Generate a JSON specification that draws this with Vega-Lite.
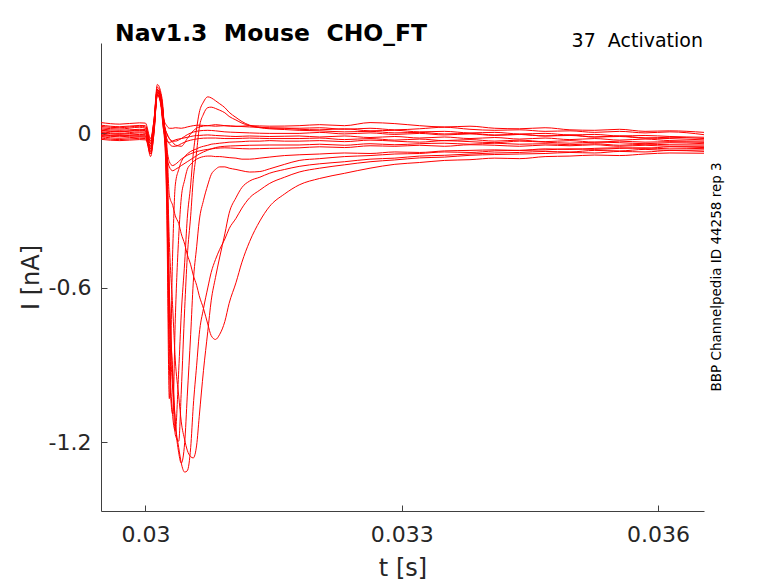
{
  "$schema": "https://vega.github.io/schema/vega-lite/v6.json",
  "autosize": {"type": "none"},
  "width": 603,
  "height": 468,
  "padding": {"left": 101, "top": 43, "right": 74, "bottom": 72},
  "background": "white",
  "title": {
    "text": "Nav1.3 \u00a0Mouse \u00a0CHO_FT",
    "anchor": "start",
    "frame": "group",
    "dx": 14,
    "offset": -32,
    "baseline": "alphabetic",
    "font": "DejaVu Sans",
    "fontSize": 23.5,
    "fontWeight": "bold",
    "color": "#000000"
  },
  "config": {
    "view": {"stroke": null},
    "axis": {
      "grid": false,
      "domainColor": "#404040",
      "tickColor": "#404040",
      "tickSize": -6,
      "labelFont": "DejaVu Sans",
      "labelFontSize": 22,
      "labelColor": "#262626",
      "labelFlush": false,
      "labelOverlap": false,
      "labelExpr": "toString(datum.value)",
      "titleFont": "DejaVu Sans",
      "titleFontSize": 24,
      "titleFontWeight": "normal",
      "titleColor": "#262626"
    }
  },
  "layer": [
    {
      "data": {
        "values": [
          {"s":"A","t":0.02948,"i":0.004},{"s":"A","t":0.0297,"i":-0.003},{"s":"A","t":0.02993,"i":0.002},{"s":"A","t":0.03,"i":0.0},{"s":"A","t":0.03006,"i":-0.06},{"s":"A","t":0.0301,"i":0.03},{"s":"A","t":0.03014,"i":0.17},{"s":"A","t":0.03018,"i":0.14},{"s":"A","t":0.03021,"i":0.06},{"s":"A","t":0.03025,"i":-0.1},{"s":"A","t":0.03028,"i":-0.6},{"s":"A","t":0.03032,"i":-0.95},{"s":"A","t":0.03035,"i":-1.12},{"s":"A","t":0.03039,"i":-1.22},{"s":"A","t":0.03042,"i":-1.28},{"s":"A","t":0.03046,"i":-1.315},{"s":"A","t":0.03049,"i":-1.31},{"s":"A","t":0.03053,"i":-1.22},{"s":"A","t":0.03056,"i":-1.06},{"s":"A","t":0.0306,"i":-0.9},{"s":"A","t":0.03063,"i":-0.78},{"s":"A","t":0.03068,"i":-0.68},{"s":"A","t":0.03073,"i":-0.6},{"s":"A","t":0.03077,"i":-0.54},{"s":"A","t":0.03082,"i":-0.49},{"s":"A","t":0.03087,"i":-0.45},{"s":"A","t":0.03093,"i":-0.41},{"s":"A","t":0.03098,"i":-0.37},{"s":"A","t":0.03106,"i":-0.33},{"s":"A","t":0.03113,"i":-0.29},{"s":"A","t":0.03122,"i":-0.25},{"s":"A","t":0.03134,"i":-0.22},{"s":"A","t":0.03145,"i":-0.195},{"s":"A","t":0.03163,"i":-0.17},{"s":"A","t":0.0318,"i":-0.15},{"s":"A","t":0.03204,"i":-0.135},{"s":"A","t":0.03233,"i":-0.122},{"s":"A","t":0.03263,"i":-0.11},{"s":"A","t":0.03292,"i":-0.103},{"s":"A","t":0.03321,"i":-0.095},{"s":"A","t":0.0335,"i":-0.092},{"s":"A","t":0.0338,"i":-0.085},{"s":"A","t":0.03409,"i":-0.082},{"s":"A","t":0.03438,"i":-0.08},{"s":"A","t":0.03468,"i":-0.078},{"s":"A","t":0.03497,"i":-0.074},{"s":"A","t":0.03526,"i":-0.076},{"s":"A","t":0.03555,"i":-0.07},{"s":"A","t":0.03585,"i":-0.072},{"s":"A","t":0.03614,"i":-0.066},{"s":"A","t":0.03654,"i":-0.07},
          {"s":"B","t":0.02948,"i":-0.012},{"s":"B","t":0.0297,"i":-0.006},{"s":"B","t":0.02993,"i":-0.011},{"s":"B","t":0.03,"i":-0.01},{"s":"B","t":0.03006,"i":-0.07},{"s":"B","t":0.0301,"i":0.02},{"s":"B","t":0.03014,"i":0.16},{"s":"B","t":0.03018,"i":0.13},{"s":"B","t":0.03021,"i":0.06},{"s":"B","t":0.03025,"i":-0.08},{"s":"B","t":0.03028,"i":-0.42},{"s":"B","t":0.03032,"i":-0.68},{"s":"B","t":0.03035,"i":-0.88},{"s":"B","t":0.03039,"i":-1.02},{"s":"B","t":0.03042,"i":-1.12},{"s":"B","t":0.03046,"i":-1.19},{"s":"B","t":0.03049,"i":-1.23},{"s":"B","t":0.03053,"i":-1.255},{"s":"B","t":0.03056,"i":-1.26},{"s":"B","t":0.0306,"i":-1.21},{"s":"B","t":0.03063,"i":-1.1},{"s":"B","t":0.03068,"i":-0.92},{"s":"B","t":0.03073,"i":-0.77},{"s":"B","t":0.03077,"i":-0.65},{"s":"B","t":0.03082,"i":-0.56},{"s":"B","t":0.03087,"i":-0.48},{"s":"B","t":0.03093,"i":-0.39},{"s":"B","t":0.03098,"i":-0.31},{"s":"B","t":0.03106,"i":-0.25},{"s":"B","t":0.03113,"i":-0.21},{"s":"B","t":0.03122,"i":-0.185},{"s":"B","t":0.03134,"i":-0.17},{"s":"B","t":0.03145,"i":-0.155},{"s":"B","t":0.03163,"i":-0.14},{"s":"B","t":0.0318,"i":-0.128},{"s":"B","t":0.03204,"i":-0.118},{"s":"B","t":0.03233,"i":-0.11},{"s":"B","t":0.03263,"i":-0.1},{"s":"B","t":0.03292,"i":-0.096},{"s":"B","t":0.03321,"i":-0.088},{"s":"B","t":0.0335,"i":-0.085},{"s":"B","t":0.0338,"i":-0.08},{"s":"B","t":0.03409,"i":-0.076},{"s":"B","t":0.03438,"i":-0.074},{"s":"B","t":0.03468,"i":-0.07},{"s":"B","t":0.03497,"i":-0.072},{"s":"B","t":0.03526,"i":-0.066},{"s":"B","t":0.03555,"i":-0.068},{"s":"B","t":0.03585,"i":-0.062},{"s":"B","t":0.03614,"i":-0.066},{"s":"B","t":0.03654,"i":-0.064},
          {"s":"C","t":0.02948,"i":0.012},{"s":"C","t":0.0297,"i":0.006},{"s":"C","t":0.02993,"i":0.013},{"s":"C","t":0.03,"i":0.01},{"s":"C","t":0.03006,"i":-0.08},{"s":"C","t":0.0301,"i":0.01},{"s":"C","t":0.03014,"i":0.17},{"s":"C","t":0.03018,"i":0.15},{"s":"C","t":0.03021,"i":0.07},{"s":"C","t":0.03025,"i":-0.12},{"s":"C","t":0.03028,"i":-0.62},{"s":"C","t":0.03032,"i":-0.93},{"s":"C","t":0.03035,"i":-1.12},{"s":"C","t":0.03039,"i":-1.24},{"s":"C","t":0.03042,"i":-1.28},{"s":"C","t":0.03046,"i":-1.2},{"s":"C","t":0.03049,"i":-1.02},{"s":"C","t":0.03053,"i":-0.78},{"s":"C","t":0.03056,"i":-0.58},{"s":"C","t":0.0306,"i":-0.44},{"s":"C","t":0.03063,"i":-0.34},{"s":"C","t":0.03068,"i":-0.26},{"s":"C","t":0.03073,"i":-0.2},{"s":"C","t":0.03077,"i":-0.16},{"s":"C","t":0.03082,"i":-0.14},{"s":"C","t":0.03087,"i":-0.13},{"s":"C","t":0.03093,"i":-0.13},{"s":"C","t":0.03098,"i":-0.135},{"s":"C","t":0.03106,"i":-0.14},{"s":"C","t":0.03113,"i":-0.145},{"s":"C","t":0.03122,"i":-0.15},{"s":"C","t":0.03134,"i":-0.148},{"s":"C","t":0.03145,"i":-0.138},{"s":"C","t":0.03163,"i":-0.12},{"s":"C","t":0.0318,"i":-0.105},{"s":"C","t":0.03204,"i":-0.098},{"s":"C","t":0.03233,"i":-0.09},{"s":"C","t":0.03263,"i":-0.086},{"s":"C","t":0.03292,"i":-0.08},{"s":"C","t":0.03321,"i":-0.078},{"s":"C","t":0.0335,"i":-0.072},{"s":"C","t":0.0338,"i":-0.074},{"s":"C","t":0.03409,"i":-0.068},{"s":"C","t":0.03438,"i":-0.066},{"s":"C","t":0.03468,"i":-0.064},{"s":"C","t":0.03497,"i":-0.06},{"s":"C","t":0.03526,"i":-0.062},{"s":"C","t":0.03555,"i":-0.058},{"s":"C","t":0.03585,"i":-0.056},{"s":"C","t":0.03614,"i":-0.06},{"s":"C","t":0.03654,"i":-0.058},
          {"s":"D","t":0.02948,"i":0.022},{"s":"D","t":0.0297,"i":0.017},{"s":"D","t":0.02993,"i":0.024},{"s":"D","t":0.03,"i":0.02},{"s":"D","t":0.03006,"i":-0.05},{"s":"D","t":0.0301,"i":0.04},{"s":"D","t":0.03014,"i":0.18},{"s":"D","t":0.03018,"i":0.15},{"s":"D","t":0.03021,"i":0.07},{"s":"D","t":0.03025,"i":-0.15},{"s":"D","t":0.03028,"i":-0.7},{"s":"D","t":0.03032,"i":-1.0},{"s":"D","t":0.03035,"i":-1.17},{"s":"D","t":0.03039,"i":-1.195},{"s":"D","t":0.03042,"i":-1.0},{"s":"D","t":0.03046,"i":-0.68},{"s":"D","t":0.03049,"i":-0.48},{"s":"D","t":0.03053,"i":-0.32},{"s":"D","t":0.03056,"i":-0.18},{"s":"D","t":0.0306,"i":-0.07},{"s":"D","t":0.03063,"i":0.02},{"s":"D","t":0.03068,"i":0.075},{"s":"D","t":0.03073,"i":0.1},{"s":"D","t":0.03077,"i":0.102},{"s":"D","t":0.03082,"i":0.097},{"s":"D","t":0.03087,"i":0.09},{"s":"D","t":0.03093,"i":0.08},{"s":"D","t":0.03098,"i":0.066},{"s":"D","t":0.03106,"i":0.052},{"s":"D","t":0.03113,"i":0.04},{"s":"D","t":0.03122,"i":0.03},{"s":"D","t":0.03134,"i":0.022},{"s":"D","t":0.03145,"i":0.018},{"s":"D","t":0.03163,"i":0.015},{"s":"D","t":0.0318,"i":0.012},{"s":"D","t":0.03204,"i":0.01},{"s":"D","t":0.03233,"i":0.006},{"s":"D","t":0.03263,"i":0.008},{"s":"D","t":0.03292,"i":0.002},{"s":"D","t":0.03321,"i":0.004},{"s":"D","t":0.0335,"i":-0.002},{"s":"D","t":0.0338,"i":0.0},{"s":"D","t":0.03409,"i":-0.006},{"s":"D","t":0.03438,"i":-0.004},{"s":"D","t":0.03468,"i":-0.01},{"s":"D","t":0.03497,"i":-0.008},{"s":"D","t":0.03526,"i":-0.014},{"s":"D","t":0.03555,"i":-0.012},{"s":"D","t":0.03585,"i":-0.018},{"s":"D","t":0.03614,"i":-0.015},{"s":"D","t":0.03654,"i":-0.02},
          {"s":"E","t":0.02948,"i":0.007},{"s":"E","t":0.0297,"i":0.0},{"s":"E","t":0.02993,"i":0.006},{"s":"E","t":0.03,"i":0.005},{"s":"E","t":0.03006,"i":-0.09},{"s":"E","t":0.0301,"i":0.0},{"s":"E","t":0.03014,"i":0.16},{"s":"E","t":0.03018,"i":0.14},{"s":"E","t":0.03021,"i":0.07},{"s":"E","t":0.03025,"i":-0.2},{"s":"E","t":0.03028,"i":-0.8},{"s":"E","t":0.03032,"i":-1.1},{"s":"E","t":0.03035,"i":-1.155},{"s":"E","t":0.03039,"i":-0.92},{"s":"E","t":0.03042,"i":-0.7},{"s":"E","t":0.03046,"i":-0.5},{"s":"E","t":0.03049,"i":-0.33},{"s":"E","t":0.03053,"i":-0.2},{"s":"E","t":0.03056,"i":-0.08},{"s":"E","t":0.0306,"i":0.02},{"s":"E","t":0.03063,"i":0.08},{"s":"E","t":0.03068,"i":0.122},{"s":"E","t":0.03073,"i":0.142},{"s":"E","t":0.03077,"i":0.138},{"s":"E","t":0.03082,"i":0.127},{"s":"E","t":0.03087,"i":0.115},{"s":"E","t":0.03093,"i":0.1},{"s":"E","t":0.03098,"i":0.082},{"s":"E","t":0.03106,"i":0.062},{"s":"E","t":0.03113,"i":0.046},{"s":"E","t":0.03122,"i":0.032},{"s":"E","t":0.03134,"i":0.024},{"s":"E","t":0.03145,"i":0.02},{"s":"E","t":0.03163,"i":0.02},{"s":"E","t":0.0318,"i":0.016},{"s":"E","t":0.03204,"i":0.014},{"s":"E","t":0.03233,"i":0.018},{"s":"E","t":0.03263,"i":0.01},{"s":"E","t":0.03292,"i":0.012},{"s":"E","t":0.03321,"i":0.006},{"s":"E","t":0.0335,"i":0.008},{"s":"E","t":0.0338,"i":0.002},{"s":"E","t":0.03409,"i":0.004},{"s":"E","t":0.03438,"i":-0.002},{"s":"E","t":0.03468,"i":0.0},{"s":"E","t":0.03497,"i":-0.006},{"s":"E","t":0.03526,"i":-0.004},{"s":"E","t":0.03555,"i":-0.01},{"s":"E","t":0.03585,"i":-0.008},{"s":"E","t":0.03614,"i":-0.012},{"s":"E","t":0.03654,"i":-0.015},
          {"s":"F","t":0.02948,"i":-0.013},{"s":"F","t":0.0297,"i":-0.019},{"s":"F","t":0.02993,"i":-0.014},{"s":"F","t":0.03,"i":-0.015},{"s":"F","t":0.03006,"i":-0.06},{"s":"F","t":0.0301,"i":0.02},{"s":"F","t":0.03014,"i":0.15},{"s":"F","t":0.03018,"i":0.13},{"s":"F","t":0.03021,"i":0.06},{"s":"F","t":0.03025,"i":-0.25},{"s":"F","t":0.03028,"i":-0.9},{"s":"F","t":0.03032,"i":-1.09},{"s":"F","t":0.03035,"i":-0.72},{"s":"F","t":0.03039,"i":-0.4},{"s":"F","t":0.03042,"i":-0.25},{"s":"F","t":0.03046,"i":-0.18},{"s":"F","t":0.03049,"i":-0.14},{"s":"F","t":0.03053,"i":-0.12},{"s":"F","t":0.03056,"i":-0.11},{"s":"F","t":0.0306,"i":-0.1},{"s":"F","t":0.03063,"i":-0.095},{"s":"F","t":0.03068,"i":-0.09},{"s":"F","t":0.03073,"i":-0.088},{"s":"F","t":0.03077,"i":-0.088},{"s":"F","t":0.03082,"i":-0.09},{"s":"F","t":0.03087,"i":-0.09},{"s":"F","t":0.03093,"i":-0.092},{"s":"F","t":0.03098,"i":-0.094},{"s":"F","t":0.03106,"i":-0.096},{"s":"F","t":0.03113,"i":-0.1},{"s":"F","t":0.03122,"i":-0.1},{"s":"F","t":0.03134,"i":-0.096},{"s":"F","t":0.03145,"i":-0.092},{"s":"F","t":0.03163,"i":-0.086},{"s":"F","t":0.0318,"i":-0.083},{"s":"F","t":0.03204,"i":-0.08},{"s":"F","t":0.03233,"i":-0.076},{"s":"F","t":0.03263,"i":-0.078},{"s":"F","t":0.03292,"i":-0.072},{"s":"F","t":0.03321,"i":-0.074},{"s":"F","t":0.0335,"i":-0.068},{"s":"F","t":0.0338,"i":-0.066},{"s":"F","t":0.03409,"i":-0.064},{"s":"F","t":0.03438,"i":-0.066},{"s":"F","t":0.03468,"i":-0.06},{"s":"F","t":0.03497,"i":-0.062},{"s":"F","t":0.03526,"i":-0.058},{"s":"F","t":0.03555,"i":-0.056},{"s":"F","t":0.03585,"i":-0.058},{"s":"F","t":0.03614,"i":-0.052},{"s":"F","t":0.03654,"i":-0.055},
          {"s":"G","t":0.02948,"i":0.017},{"s":"G","t":0.0297,"i":0.012},{"s":"G","t":0.02993,"i":0.016},{"s":"G","t":0.03,"i":0.015},{"s":"G","t":0.03006,"i":-0.04},{"s":"G","t":0.0301,"i":0.05},{"s":"G","t":0.03014,"i":0.19},{"s":"G","t":0.03018,"i":0.16},{"s":"G","t":0.03021,"i":0.08},{"s":"G","t":0.03025,"i":-0.3},{"s":"G","t":0.03028,"i":-1.03},{"s":"G","t":0.03032,"i":-0.45},{"s":"G","t":0.03035,"i":-0.2},{"s":"G","t":0.03039,"i":-0.14},{"s":"G","t":0.03042,"i":-0.11},{"s":"G","t":0.03046,"i":-0.09},{"s":"G","t":0.03049,"i":-0.08},{"s":"G","t":0.03053,"i":-0.07},{"s":"G","t":0.03056,"i":-0.065},{"s":"G","t":0.0306,"i":-0.06},{"s":"G","t":0.03063,"i":-0.055},{"s":"G","t":0.03068,"i":-0.05},{"s":"G","t":0.03073,"i":-0.046},{"s":"G","t":0.03077,"i":-0.042},{"s":"G","t":0.03082,"i":-0.04},{"s":"G","t":0.03087,"i":-0.038},{"s":"G","t":0.03093,"i":-0.036},{"s":"G","t":0.03098,"i":-0.034},{"s":"G","t":0.03106,"i":-0.033},{"s":"G","t":0.03113,"i":-0.032},{"s":"G","t":0.03122,"i":-0.03},{"s":"G","t":0.03134,"i":-0.03},{"s":"G","t":0.03145,"i":-0.028},{"s":"G","t":0.03163,"i":-0.03},{"s":"G","t":0.0318,"i":-0.03},{"s":"G","t":0.03204,"i":-0.028},{"s":"G","t":0.03233,"i":-0.032},{"s":"G","t":0.03263,"i":-0.026},{"s":"G","t":0.03292,"i":-0.03},{"s":"G","t":0.03321,"i":-0.034},{"s":"G","t":0.0335,"i":-0.028},{"s":"G","t":0.0338,"i":-0.032},{"s":"G","t":0.03409,"i":-0.036},{"s":"G","t":0.03438,"i":-0.03},{"s":"G","t":0.03468,"i":-0.034},{"s":"G","t":0.03497,"i":-0.038},{"s":"G","t":0.03526,"i":-0.034},{"s":"G","t":0.03555,"i":-0.036},{"s":"G","t":0.03585,"i":-0.04},{"s":"G","t":0.03614,"i":-0.036},{"s":"G","t":0.03654,"i":-0.04},
          {"s":"H","t":0.02948,"i":-0.003},{"s":"H","t":0.0297,"i":-0.008},{"s":"H","t":0.02993,"i":-0.004},{"s":"H","t":0.03,"i":-0.005},{"s":"H","t":0.03006,"i":-0.07},{"s":"H","t":0.0301,"i":0.02},{"s":"H","t":0.03014,"i":0.16},{"s":"H","t":0.03018,"i":0.14},{"s":"H","t":0.03021,"i":0.06},{"s":"H","t":0.03025,"i":-0.04},{"s":"H","t":0.03028,"i":-0.24},{"s":"H","t":0.03032,"i":-0.28},{"s":"H","t":0.03035,"i":-0.32},{"s":"H","t":0.03039,"i":-0.35},{"s":"H","t":0.03042,"i":-0.39},{"s":"H","t":0.03046,"i":-0.43},{"s":"H","t":0.03049,"i":-0.47},{"s":"H","t":0.03053,"i":-0.51},{"s":"H","t":0.03056,"i":-0.55},{"s":"H","t":0.0306,"i":-0.59},{"s":"H","t":0.03063,"i":-0.63},{"s":"H","t":0.03068,"i":-0.68},{"s":"H","t":0.03073,"i":-0.74},{"s":"H","t":0.03077,"i":-0.785},{"s":"H","t":0.03082,"i":-0.8},{"s":"H","t":0.03087,"i":-0.78},{"s":"H","t":0.03093,"i":-0.73},{"s":"H","t":0.03098,"i":-0.66},{"s":"H","t":0.03106,"i":-0.58},{"s":"H","t":0.03113,"i":-0.5},{"s":"H","t":0.03122,"i":-0.42},{"s":"H","t":0.03134,"i":-0.34},{"s":"H","t":0.03145,"i":-0.285},{"s":"H","t":0.03163,"i":-0.235},{"s":"H","t":0.0318,"i":-0.2},{"s":"H","t":0.03204,"i":-0.175},{"s":"H","t":0.03233,"i":-0.155},{"s":"H","t":0.03263,"i":-0.135},{"s":"H","t":0.03292,"i":-0.12},{"s":"H","t":0.03321,"i":-0.113},{"s":"H","t":0.0335,"i":-0.105},{"s":"H","t":0.0338,"i":-0.102},{"s":"H","t":0.03409,"i":-0.096},{"s":"H","t":0.03438,"i":-0.098},{"s":"H","t":0.03468,"i":-0.09},{"s":"H","t":0.03497,"i":-0.088},{"s":"H","t":0.03526,"i":-0.084},{"s":"H","t":0.03555,"i":-0.086},{"s":"H","t":0.03585,"i":-0.08},{"s":"H","t":0.03614,"i":-0.076},{"s":"H","t":0.03654,"i":-0.077},
          {"s":"S1","t":0.02948,"i":0.042},{"s":"S1","t":0.0297,"i":0.036},{"s":"S1","t":0.02993,"i":0.041},{"s":"S1","t":0.03,"i":0.04},{"s":"S1","t":0.03006,"i":-0.02},{"s":"S1","t":0.0301,"i":0.05},{"s":"S1","t":0.03014,"i":0.17},{"s":"S1","t":0.03018,"i":0.13},{"s":"S1","t":0.03021,"i":0.05},{"s":"S1","t":0.03025,"i":0.0},{"s":"S1","t":0.03028,"i":-0.02},{"s":"S1","t":0.03032,"i":-0.035},{"s":"S1","t":0.03035,"i":-0.045},{"s":"S1","t":0.03042,"i":-0.05},{"s":"S1","t":0.03049,"i":-0.02},{"s":"S1","t":0.03056,"i":0.01},{"s":"S1","t":0.03063,"i":0.025},{"s":"S1","t":0.03073,"i":0.03},{"s":"S1","t":0.03082,"i":0.028},{"s":"S1","t":0.03093,"i":0.03},{"s":"S1","t":0.03106,"i":0.027},{"s":"S1","t":0.03122,"i":0.03},{"s":"S1","t":0.03145,"i":0.028},{"s":"S1","t":0.0318,"i":0.03},{"s":"S1","t":0.03204,"i":0.034},{"s":"S1","t":0.03233,"i":0.03},{"s":"S1","t":0.03263,"i":0.042},{"s":"S1","t":0.03292,"i":0.038},{"s":"S1","t":0.03321,"i":0.03},{"s":"S1","t":0.0335,"i":0.025},{"s":"S1","t":0.0338,"i":0.028},{"s":"S1","t":0.03409,"i":0.02},{"s":"S1","t":0.03438,"i":0.018},{"s":"S1","t":0.03468,"i":0.022},{"s":"S1","t":0.03497,"i":0.014},{"s":"S1","t":0.03526,"i":0.012},{"s":"S1","t":0.03555,"i":0.016},{"s":"S1","t":0.03585,"i":0.008},{"s":"S1","t":0.03614,"i":0.01},{"s":"S1","t":0.03654,"i":0.004},
          {"s":"S2","t":0.02948,"i":0.027},{"s":"S2","t":0.0297,"i":0.022},{"s":"S2","t":0.02993,"i":0.028},{"s":"S2","t":0.03,"i":0.025},{"s":"S2","t":0.03006,"i":-0.03},{"s":"S2","t":0.0301,"i":0.04},{"s":"S2","t":0.03014,"i":0.16},{"s":"S2","t":0.03018,"i":0.12},{"s":"S2","t":0.03021,"i":0.03},{"s":"S2","t":0.03025,"i":-0.06},{"s":"S2","t":0.03028,"i":-0.11},{"s":"S2","t":0.03032,"i":-0.125},{"s":"S2","t":0.03035,"i":-0.12},{"s":"S2","t":0.03042,"i":-0.1},{"s":"S2","t":0.03049,"i":-0.085},{"s":"S2","t":0.03056,"i":-0.075},{"s":"S2","t":0.03063,"i":-0.068},{"s":"S2","t":0.03073,"i":-0.062},{"s":"S2","t":0.03082,"i":-0.058},{"s":"S2","t":0.03093,"i":-0.056},{"s":"S2","t":0.03106,"i":-0.058},{"s":"S2","t":0.03122,"i":-0.06},{"s":"S2","t":0.03145,"i":-0.058},{"s":"S2","t":0.0318,"i":-0.056},{"s":"S2","t":0.03204,"i":-0.052},{"s":"S2","t":0.03233,"i":-0.055},{"s":"S2","t":0.03263,"i":-0.048},{"s":"S2","t":0.03292,"i":-0.05},{"s":"S2","t":0.03321,"i":-0.046},{"s":"S2","t":0.0335,"i":-0.05},{"s":"S2","t":0.0338,"i":-0.044},{"s":"S2","t":0.03409,"i":-0.046},{"s":"S2","t":0.03438,"i":-0.05},{"s":"S2","t":0.03468,"i":-0.045},{"s":"S2","t":0.03497,"i":-0.048},{"s":"S2","t":0.03526,"i":-0.044},{"s":"S2","t":0.03555,"i":-0.05},{"s":"S2","t":0.03585,"i":-0.046},{"s":"S2","t":0.03614,"i":-0.05},{"s":"S2","t":0.03654,"i":-0.05},
          {"s":"S3","t":0.02948,"i":-0.018},{"s":"S3","t":0.0297,"i":-0.024},{"s":"S3","t":0.02993,"i":-0.019},{"s":"S3","t":0.03,"i":-0.02},{"s":"S3","t":0.03006,"i":-0.08},{"s":"S3","t":0.0301,"i":0.0},{"s":"S3","t":0.03014,"i":0.15},{"s":"S3","t":0.03018,"i":0.12},{"s":"S3","t":0.03021,"i":0.02},{"s":"S3","t":0.03025,"i":-0.09},{"s":"S3","t":0.03028,"i":-0.13},{"s":"S3","t":0.03032,"i":-0.145},{"s":"S3","t":0.03035,"i":-0.14},{"s":"S3","t":0.03042,"i":-0.125},{"s":"S3","t":0.03049,"i":-0.11},{"s":"S3","t":0.03056,"i":-0.095},{"s":"S3","t":0.03063,"i":-0.08},{"s":"S3","t":0.03073,"i":-0.065},{"s":"S3","t":0.03082,"i":-0.055},{"s":"S3","t":0.03093,"i":-0.05},{"s":"S3","t":0.03106,"i":-0.048},{"s":"S3","t":0.03122,"i":-0.046},{"s":"S3","t":0.03145,"i":-0.045},{"s":"S3","t":0.0318,"i":-0.045},{"s":"S3","t":0.03204,"i":-0.042},{"s":"S3","t":0.03233,"i":-0.046},{"s":"S3","t":0.03263,"i":-0.04},{"s":"S3","t":0.03292,"i":-0.044},{"s":"S3","t":0.03321,"i":-0.04},{"s":"S3","t":0.0335,"i":-0.038},{"s":"S3","t":0.0338,"i":-0.042},{"s":"S3","t":0.03409,"i":-0.038},{"s":"S3","t":0.03438,"i":-0.042},{"s":"S3","t":0.03468,"i":-0.04},{"s":"S3","t":0.03497,"i":-0.044},{"s":"S3","t":0.03526,"i":-0.04},{"s":"S3","t":0.03555,"i":-0.046},{"s":"S3","t":0.03585,"i":-0.042},{"s":"S3","t":0.03614,"i":-0.044},{"s":"S3","t":0.03654,"i":-0.045},
          {"s":"N1","t":0.02948,"i":0.032},{"s":"N1","t":0.0297,"i":0.026},{"s":"N1","t":0.02993,"i":0.031},{"s":"N1","t":0.03,"i":0.03},{"s":"N1","t":0.03006,"i":-0.03},{"s":"N1","t":0.0301,"i":0.05},{"s":"N1","t":0.03014,"i":0.17},{"s":"N1","t":0.03018,"i":0.13},{"s":"N1","t":0.03021,"i":0.06},{"s":"N1","t":0.03025,"i":0.03},{"s":"N1","t":0.03028,"i":0.02},{"s":"N1","t":0.03032,"i":0.02},{"s":"N1","t":0.03035,"i":0.022},{"s":"N1","t":0.03042,"i":0.02},{"s":"N1","t":0.03049,"i":0.025},{"s":"N1","t":0.03056,"i":0.03},{"s":"N1","t":0.03063,"i":0.032},{"s":"N1","t":0.03073,"i":0.03},{"s":"N1","t":0.03082,"i":0.034},{"s":"N1","t":0.03093,"i":0.03},{"s":"N1","t":0.03106,"i":0.028},{"s":"N1","t":0.03122,"i":0.025},{"s":"N1","t":0.03145,"i":0.022},{"s":"N1","t":0.0318,"i":0.02},{"s":"N1","t":0.03204,"i":0.022},{"s":"N1","t":0.03233,"i":0.016},{"s":"N1","t":0.03263,"i":0.02},{"s":"N1","t":0.03292,"i":0.014},{"s":"N1","t":0.03321,"i":0.018},{"s":"N1","t":0.0335,"i":0.024},{"s":"N1","t":0.0338,"i":0.016},{"s":"N1","t":0.03409,"i":0.012},{"s":"N1","t":0.03438,"i":0.014},{"s":"N1","t":0.03468,"i":0.008},{"s":"N1","t":0.03497,"i":0.01},{"s":"N1","t":0.03526,"i":0.004},{"s":"N1","t":0.03555,"i":0.008},{"s":"N1","t":0.03585,"i":0.002},{"s":"N1","t":0.03614,"i":0.006},{"s":"N1","t":0.03654,"i":-0.005},
          {"s":"N2","t":0.02948,"i":-0.023},{"s":"N2","t":0.0297,"i":-0.028},{"s":"N2","t":0.02993,"i":-0.024},{"s":"N2","t":0.03,"i":-0.025},{"s":"N2","t":0.03006,"i":-0.05},{"s":"N2","t":0.0301,"i":0.02},{"s":"N2","t":0.03014,"i":0.15},{"s":"N2","t":0.03018,"i":0.11},{"s":"N2","t":0.03021,"i":0.02},{"s":"N2","t":0.03025,"i":-0.03},{"s":"N2","t":0.03028,"i":-0.035},{"s":"N2","t":0.03032,"i":-0.03},{"s":"N2","t":0.03035,"i":-0.025},{"s":"N2","t":0.03042,"i":-0.02},{"s":"N2","t":0.03049,"i":-0.015},{"s":"N2","t":0.03056,"i":-0.01},{"s":"N2","t":0.03063,"i":-0.008},{"s":"N2","t":0.03073,"i":-0.006},{"s":"N2","t":0.03082,"i":-0.008},{"s":"N2","t":0.03093,"i":-0.01},{"s":"N2","t":0.03106,"i":-0.012},{"s":"N2","t":0.03122,"i":-0.01},{"s":"N2","t":0.03145,"i":-0.012},{"s":"N2","t":0.0318,"i":-0.01},{"s":"N2","t":0.03204,"i":-0.014},{"s":"N2","t":0.03233,"i":-0.01},{"s":"N2","t":0.03263,"i":-0.016},{"s":"N2","t":0.03292,"i":-0.012},{"s":"N2","t":0.03321,"i":-0.018},{"s":"N2","t":0.0335,"i":-0.014},{"s":"N2","t":0.0338,"i":-0.02},{"s":"N2","t":0.03409,"i":-0.016},{"s":"N2","t":0.03438,"i":-0.022},{"s":"N2","t":0.03468,"i":-0.018},{"s":"N2","t":0.03497,"i":-0.024},{"s":"N2","t":0.03526,"i":-0.02},{"s":"N2","t":0.03555,"i":-0.026},{"s":"N2","t":0.03585,"i":-0.022},{"s":"N2","t":0.03614,"i":-0.028},{"s":"N2","t":0.03654,"i":-0.03},
          {"s":"N3","t":0.02948,"i":0.012},{"s":"N3","t":0.0297,"i":0.007},{"s":"N3","t":0.02993,"i":0.011},{"s":"N3","t":0.03,"i":0.01},{"s":"N3","t":0.03006,"i":-0.04},{"s":"N3","t":0.0301,"i":0.03},{"s":"N3","t":0.03014,"i":0.16},{"s":"N3","t":0.03018,"i":0.12},{"s":"N3","t":0.03021,"i":0.04},{"s":"N3","t":0.03025,"i":0.0},{"s":"N3","t":0.03028,"i":-0.02},{"s":"N3","t":0.03032,"i":-0.03},{"s":"N3","t":0.03035,"i":-0.03},{"s":"N3","t":0.03042,"i":-0.02},{"s":"N3","t":0.03049,"i":-0.005},{"s":"N3","t":0.03056,"i":0.005},{"s":"N3","t":0.03063,"i":0.01},{"s":"N3","t":0.03073,"i":0.012},{"s":"N3","t":0.03082,"i":0.01},{"s":"N3","t":0.03093,"i":0.006},{"s":"N3","t":0.03106,"i":0.004},{"s":"N3","t":0.03122,"i":0.002},{"s":"N3","t":0.03145,"i":0.0},{"s":"N3","t":0.0318,"i":0.0},{"s":"N3","t":0.03204,"i":0.004},{"s":"N3","t":0.03233,"i":-0.002},{"s":"N3","t":0.03263,"i":0.002},{"s":"N3","t":0.03292,"i":-0.004},{"s":"N3","t":0.03321,"i":0.0},{"s":"N3","t":0.0335,"i":-0.006},{"s":"N3","t":0.0338,"i":-0.002},{"s":"N3","t":0.03409,"i":-0.008},{"s":"N3","t":0.03438,"i":-0.004},{"s":"N3","t":0.03468,"i":-0.01},{"s":"N3","t":0.03497,"i":-0.006},{"s":"N3","t":0.03526,"i":-0.014},{"s":"N3","t":0.03555,"i":-0.01},{"s":"N3","t":0.03585,"i":-0.018},{"s":"N3","t":0.03614,"i":-0.02},{"s":"N3","t":0.03654,"i":-0.025},
          {"s":"N4","t":0.02948,"i":-0.008},{"s":"N4","t":0.0297,"i":-0.013},{"s":"N4","t":0.02993,"i":-0.009},{"s":"N4","t":0.03,"i":-0.01},{"s":"N4","t":0.03006,"i":-0.06},{"s":"N4","t":0.0301,"i":0.01},{"s":"N4","t":0.03014,"i":0.15},{"s":"N4","t":0.03018,"i":0.12},{"s":"N4","t":0.03021,"i":0.04},{"s":"N4","t":0.03025,"i":-0.02},{"s":"N4","t":0.03028,"i":-0.04},{"s":"N4","t":0.03032,"i":-0.05},{"s":"N4","t":0.03035,"i":-0.05},{"s":"N4","t":0.03042,"i":-0.04},{"s":"N4","t":0.03049,"i":-0.03},{"s":"N4","t":0.03056,"i":-0.024},{"s":"N4","t":0.03063,"i":-0.02},{"s":"N4","t":0.03073,"i":-0.018},{"s":"N4","t":0.03082,"i":-0.018},{"s":"N4","t":0.03093,"i":-0.02},{"s":"N4","t":0.03106,"i":-0.02},{"s":"N4","t":0.03122,"i":-0.018},{"s":"N4","t":0.03145,"i":-0.02},{"s":"N4","t":0.0318,"i":-0.02},{"s":"N4","t":0.03204,"i":-0.018},{"s":"N4","t":0.03233,"i":-0.024},{"s":"N4","t":0.03263,"i":-0.02},{"s":"N4","t":0.03292,"i":-0.026},{"s":"N4","t":0.03321,"i":-0.022},{"s":"N4","t":0.0335,"i":-0.028},{"s":"N4","t":0.0338,"i":-0.024},{"s":"N4","t":0.03409,"i":-0.03},{"s":"N4","t":0.03438,"i":-0.026},{"s":"N4","t":0.03468,"i":-0.032},{"s":"N4","t":0.03497,"i":-0.028},{"s":"N4","t":0.03526,"i":-0.034},{"s":"N4","t":0.03555,"i":-0.03},{"s":"N4","t":0.03585,"i":-0.034},{"s":"N4","t":0.03614,"i":-0.032},{"s":"N4","t":0.03654,"i":-0.035}
        ]
      },
      "mark": {"type": "line", "color": "#ff0000", "strokeWidth": 1, "interpolate": "monotone", "clip": true},
      "encoding": {
        "x": {
          "field": "t",
          "type": "quantitative",
          "scale": {"domain": [0.02948, 0.03654], "nice": false, "zero": false},
          "axis": {"values": [0.03, 0.033, 0.036], "title": "t [s]", "labelPadding": 19, "titlePadding": 11}
        },
        "y": {
          "field": "i",
          "type": "quantitative",
          "scale": {"domain": [-1.466, 0.351], "nice": false, "zero": false},
          "axis": {"values": [-1.2, -0.6, 0], "title": "I [nA]", "labelPadding": 16, "titlePadding": 5}
        },
        "detail": {"field": "s"}
      }
    },
    {
      "data": {"values": [{"label": "37 \u00a0Activation"}]},
      "mark": {"type": "text", "align": "right", "baseline": "alphabetic", "dx": -1, "dy": 4, "font": "DejaVu Sans", "fontSize": 19, "color": "#000000"},
      "encoding": {
        "x": {"datum": 0.03654, "type": "quantitative"},
        "y": {"datum": 0.351, "type": "quantitative"},
        "text": {"field": "label"}
      }
    },
    {
      "data": {"values": [{"label": "BBP Channelpedia ID 44258 rep 3"}]},
      "mark": {"type": "text", "align": "center", "baseline": "middle", "angle": 270, "dy": 13, "font": "DejaVu Sans", "fontSize": 13.5, "color": "#000000"},
      "encoding": {
        "x": {"datum": 0.03654, "type": "quantitative"},
        "y": {"datum": -0.557, "type": "quantitative"},
        "text": {"field": "label"}
      }
    }
  ]
}
